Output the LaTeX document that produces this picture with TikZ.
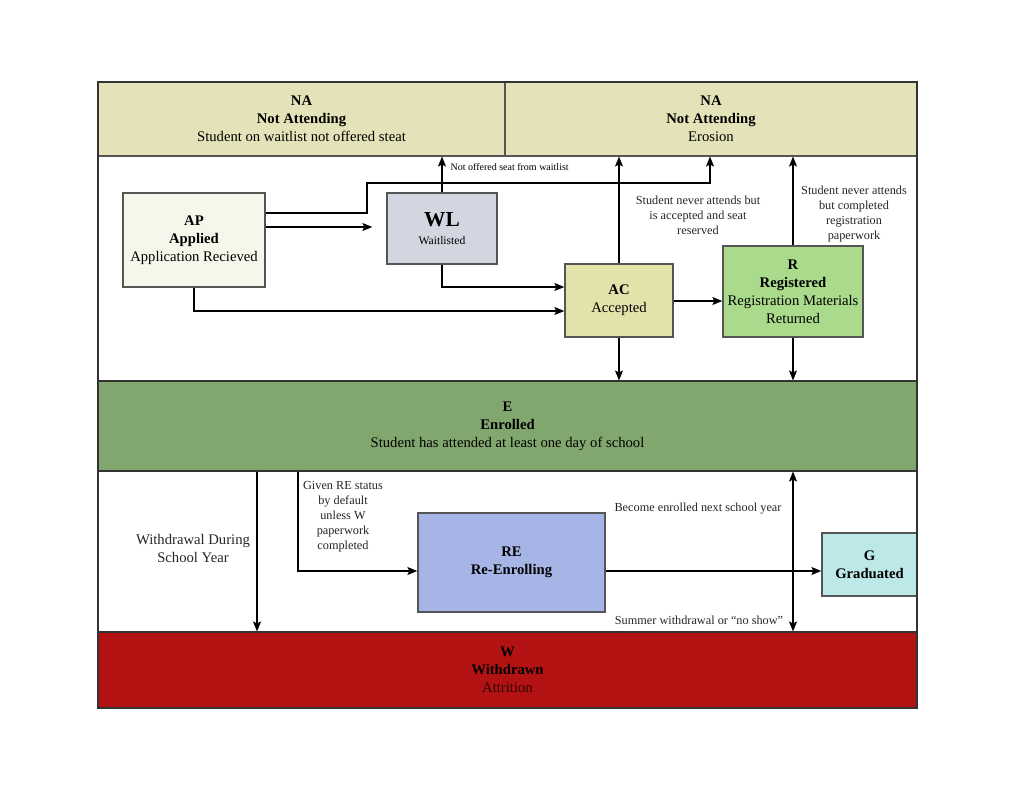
\documentclass[tikz,border=0pt]{standalone}
\usepackage{fontspec}
\setmainfont{Liberation Serif}
\usetikzlibrary{arrows.meta}
\definecolor{nafill}{HTML}{E3E2B8}
\definecolor{apfill}{HTML}{F6F6EA}
\definecolor{wlfill}{HTML}{D3D6E0}
\definecolor{acfill}{HTML}{E2E2AA}
\definecolor{rfill}{HTML}{AADB8C}
\definecolor{efill}{HTML}{82A76E}
\definecolor{refill}{HTML}{A6B5E5}
\definecolor{gfill}{HTML}{BCE8E8}
\definecolor{wfill}{HTML}{B31212}
\definecolor{boxline}{HTML}{555555}
\definecolor{frameline}{HTML}{333333}
\definecolor{attr}{HTML}{2A0505}
\newcommand\mainf{\fontsize{11}{13.5}\selectfont}
\newcommand\lblf{\fontsize{9.2}{11.25}\selectfont}
\newcommand\tinyf{\fontsize{7.5}{9}\selectfont}
\begin{document}
\begin{tikzpicture}[x=0.75pt,y=-0.75pt,
  band/.style={draw=boxline, line width=0.8pt, inner sep=0pt, align=center, font=\mainf},
  statebox/.style={draw=boxline, line width=1pt, inner sep=1pt, align=center, font=\mainf},
  arr/.style={-{Stealth[length=7.5pt,width=6pt,inset=1.5pt]}, line width=0.9pt},
  darr/.style={{Stealth[length=7.5pt,width=6pt,inset=1.5pt]}-{Stealth[length=7.5pt,width=6pt,inset=1.5pt]}, line width=0.9pt},
  lbl/.style={align=center, font=\lblf, inner sep=0pt, text=black!85}]
\useasboundingbox (0,0) rectangle (1024,791);
\fill[white] (0,0) rectangle (1024,791);
% bands
\node[band, fill=nafill, minimum width=305.25pt, minimum height=55.5pt] (NAL) at (301.5,119)
  {\textbf{NA}\\\textbf{Not Attending}\\Student on waitlist not offered steat};
\node[band, fill=nafill, minimum width=309pt, minimum height=55.5pt] (NAR) at (711,119)
  {\textbf{NA}\\\textbf{Not Attending}\\Erosion};
\node[band, fill=efill, draw=frameline, minimum width=614.25pt, minimum height=67.5pt] (E) at (507.5,426)
  {\textbf{E}\\\textbf{Enrolled}\\Student has attended at least one day of school};
\node[band, fill=wfill, draw=frameline, minimum width=614.25pt, minimum height=57pt] (W) at (507.5,670)
  {\textbf{W}\\\textbf{Withdrawn}\\\textcolor{attr}{Attrition}};
% boxes
\node[statebox, fill=apfill, minimum width=106.5pt, minimum height=70.5pt] (AP) at (194,240)
  {\textbf{AP}\\\textbf{Applied}\\Application Recieved};
\node[statebox, fill=wlfill, minimum width=82.5pt, minimum height=53.25pt] (WL) at (442,228.5)
  {{\fontsize{16}{17}\selectfont\textbf{WL}}\\{\fontsize{8.7}{11}\selectfont Waitlisted}};
\node[statebox, fill=acfill, minimum width=81pt, minimum height=54.75pt] (AC) at (619,300.5)
  {\textbf{AC}\\Accepted};
\node[statebox, fill=rfill, minimum width=105pt, minimum height=68.25pt] (R) at (793,291.5)
  {\textbf{R}\\\textbf{Registered}\\Registration Materials\\Returned};
\node[statebox, fill=refill, minimum width=140.25pt, minimum height=74.25pt] (RE) at (511.5,562.5)
  {\textbf{RE}\\\textbf{Re-Enrolling}};
\node[statebox, fill=gfill, minimum width=71.25pt, minimum height=47.25pt] (G) at (869.5,564.5)
  {\textbf{G}\\\textbf{Graduated}};
% frame
\draw[frameline, line width=1pt] (98,82) rectangle (917,708);
% connectors
\draw[arr] (AP.east |- 0,213) -- (367,213) -- (367,183) -- (710,183) -- (NAR.south -| 710,0);
\draw[arr, shorten >=10.5pt] (AP.east |- 0,227) -- (WL.west |- 0,227);
\draw[arr] (WL.north) -- (WL.north |- NAL.south)
  node[pos=0.72, anchor=west, font=\tinyf, inner sep=0pt, xshift=6pt] {Not offered seat from waitlist};
\draw[arr] (WL.south) |- (AC.west |- 0,287);
\draw[arr] (AP.south) |- (AC.west |- 0,311);
\draw[arr] (AC.east |- 0,301) -- (R.west |- 0,301);
\draw[arr] (AC.north) -- (AC.north |- NAR.south);
\draw[arr] (AC.south) -- (AC.south |- E.north);
\draw[arr] (R.north) -- (R.north |- NAR.south);
\draw[arr] (R.south) -- (R.south |- E.north);
\draw[arr] (E.south -| 257,0) -- (W.north -| 257,0);
\draw[arr] (E.south -| 298,0) |- (RE.west |- 0,571);
\draw[arr] (RE.east |- 0,571) -- (G.west |- 0,571);
\draw[darr] (E.south -| 793,0) -- (W.north -| 793,0);
% labels
\node[lbl] (l1) at (698,215) {Student never attends but\\is accepted and seat\\reserved};
\node[lbl] (l2) at (854,214) {Student never attends\\but completed\\registration\\paperwork};
\node[lbl, font=\mainf] (l3) at (193,548) {Withdrawal During\\School Year};
\node[lbl] (l4) at (343,516.5) {Given RE status\\by default\\unless W\\paperwork\\completed};
\node[lbl] (l5) at (698,509) {Become enrolled next school year};
\node[lbl] (l6) at (699,620) {Summer withdrawal or ``no show''};
\end{tikzpicture}
\end{document}
